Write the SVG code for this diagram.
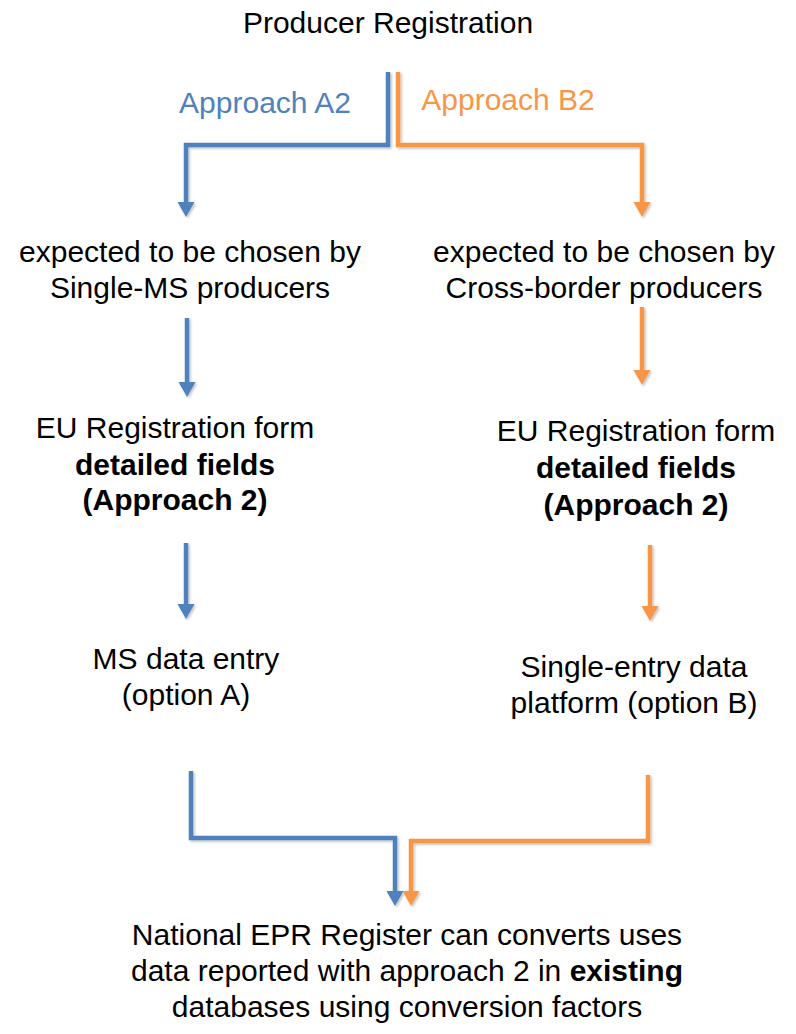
<svg xmlns="http://www.w3.org/2000/svg" width="796" height="1034" viewBox="0 0 796 1034">
<style>
text{font-family:"Liberation Sans",Arial,sans-serif;font-size:30px;fill:#000;text-anchor:middle}
.b{font-weight:bold}
.blue{fill:#4F81BD}
.orange{fill:#F79646}
.cb{fill:none;stroke:#4F81BD;stroke-width:4.5}
.co{fill:none;stroke:#F79646;stroke-width:4.5}
.hb{fill:#4F81BD}
.ho{fill:#F79646}
</style>
<defs>
<path id="head" d="M-8.5,-15 L8.5,-15 L0,0 Z"/>
<filter id="sh" x="-10%" y="-10%" width="130%" height="130%"><feDropShadow dx="1.5" dy="1.5" stdDeviation="1.2" flood-color="#000" flood-opacity="0.25"/></filter>
</defs>
<g id="producer-registration"><text x="388" y="33">Producer Registration</text></g>
<g id="label-a2"><text class="blue" x="265" y="113">Approach A2</text></g>
<g id="label-b2"><text class="orange" x="508" y="110">Approach B2</text></g>
<g id="single-ms"><text x="190" y="262">expected to be chosen by</text><text x="190" y="298">Single-MS producers</text></g>
<g id="cross-border"><text x="604" y="262">expected to be chosen by</text><text x="604" y="298">Cross-border producers</text></g>
<g id="eu-form-a"><text x="175" y="438">EU Registration form</text><text class="b" x="175" y="475">detailed fields</text><text class="b" x="175" y="510">(Approach 2)</text></g>
<g id="eu-form-b"><text x="636" y="441">EU Registration form</text><text class="b" x="636" y="478">detailed fields</text><text class="b" x="636" y="515">(Approach 2)</text></g>
<g id="ms-data-entry"><text x="186" y="669">MS data entry</text><text x="186" y="705">(option A)</text></g>
<g id="single-entry"><text x="634" y="677">Single-entry data</text><text x="634" y="713">platform (option B)</text></g>
<g id="national-register"><text x="407" y="945">National EPR Register can converts uses</text><text x="407" y="981">data reported with approach 2 in <tspan class="b">existing</tspan></text><text x="407" y="1017">databases using conversion factors</text></g>
<g id="connectors" filter="url(#sh)">
<path class="cb" d="M388,72 V145 H186 V204"/><use href="#head" class="hb" x="186" y="217"/>
<path class="co" d="M398,72 V145 H642 V204"/><use href="#head" class="ho" x="642" y="217"/>
<path class="cb" d="M187,318 V385"/><use href="#head" class="hb" x="187" y="397"/>
<path class="co" d="M642,307 V373"/><use href="#head" class="ho" x="642" y="385"/>
<path class="cb" d="M186,543 V606"/><use href="#head" class="hb" x="186" y="619"/>
<path class="co" d="M650,545 V608"/><use href="#head" class="ho" x="650" y="621"/>
<path class="cb" d="M191,771 V838 H395 V893"/><use href="#head" class="hb" x="395" y="906"/>
<path class="co" d="M648,775 V841 H411 V893"/><use href="#head" class="ho" x="411" y="906"/>
</g>
</svg>
